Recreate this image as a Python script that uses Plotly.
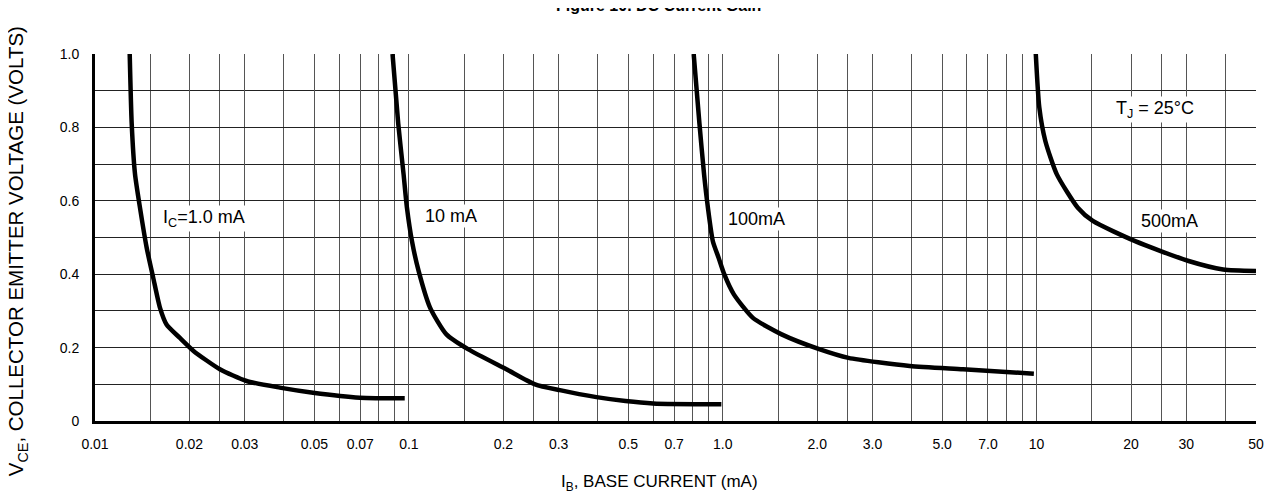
import math
import plotly.graph_objects as go

# ---- data ----
ib_1ma = [0.0129, 0.01309, 0.01341, 0.01391, 0.01461, 0.01533, 0.0161, 0.0169, 0.0186, 0.0206, 0.025, 0.0304, 0.0388, 0.0495, 0.0698, 0.097]
vce_1ma = [1.0, 0.81, 0.673, 0.581, 0.472, 0.39, 0.309, 0.263, 0.227, 0.191, 0.141, 0.109, 0.091, 0.077, 0.0635, 0.062]

ib_10ma = [0.0887, 0.0925, 0.0962, 0.0986, 0.1023, 0.1074, 0.1168, 0.1317, 0.1548, 0.2045, 0.2524, 0.3028, 0.396, 0.49, 0.60, 0.99]
vce_10ma = [1.0, 0.81, 0.672, 0.581, 0.49, 0.409, 0.309, 0.236, 0.195, 0.141, 0.10, 0.084, 0.065, 0.0545, 0.048, 0.0455]

ib_100ma = [0.808, 0.843, 0.872, 0.897, 0.930, 0.970, 1.011, 1.085, 1.248, 1.54, 2.04, 2.515, 3.94, 5.83, 9.8]
vce_100ma = [1.0, 0.81, 0.672, 0.581, 0.49, 0.445, 0.40, 0.345, 0.281, 0.236, 0.195, 0.172, 0.15, 0.141, 0.129]

ib_500ma = [9.94, 10.2, 10.66, 11.6, 13.53, 15.1, 20.6, 30.5, 39.3, 50.0]
vce_500ma = [1.0, 0.854, 0.763, 0.672, 0.581, 0.545, 0.49, 0.436, 0.413, 0.409]

x_tick_vals = [0.01, 0.02, 0.03, 0.05, 0.07, 0.1, 0.2, 0.3, 0.5, 0.7, 1, 2, 3, 5, 7, 10, 20, 30, 50]
x_tick_text = ["0.01", "0.02", "0.03", "0.05", "0.07", "0.1", "0.2", "0.3", "0.5", "0.7",
               "1.0", "2.0", "3.0", "5.0", "7.0", "10", "20", "30", "50"]
x_minor_vals = [0.015, 0.025, 0.04, 0.06, 0.08, 0.09,
                0.15, 0.25, 0.4, 0.6, 0.8, 0.9,
                1.5, 2.5, 4, 6, 8, 9,
                15, 25, 40]
y_tick_vals = [0, 0.2, 0.4, 0.6, 0.8, 1.0]
y_tick_text = ["0", "0.2", "0.4", "0.6", "0.8", "1.0"]
y_minor_vals = [0.1, 0.3, 0.5, 0.7, 0.9]

curve_labels = [
    ("I<sub>C</sub>=1.0 mA", 0.0222, 0.553),
    ("10 mA", 0.1365, 0.558),
    ("100mA", 1.28, 0.55),
    ("500mA", 26.5, 0.545),
    ("T<sub>J</sub> = 25°C", 23.8, 0.85),
]

FONT = "Liberation Sans, Arial, sans-serif"

fig = go.Figure()
for xs, ys in [(ib_1ma, vce_1ma), (ib_10ma, vce_10ma), (ib_100ma, vce_100ma), (ib_500ma, vce_500ma)]:
    fig.add_trace(go.Scatter(x=xs, y=ys, mode="lines",
                             line=dict(color="black", width=4.5, shape="spline", smoothing=0.6),
                             showlegend=False, hoverinfo="skip"))

for txt, x, y in curve_labels:
    fig.add_annotation(x=math.log10(x), y=y, xref="x", yref="y", text=txt,
                       showarrow=False, bgcolor="white", borderpad=1,
                       font=dict(family=FONT, size=18, color="black"))

fig.update_xaxes(type="log", range=[-2, math.log10(50)],
                 tickmode="array", tickvals=x_tick_vals, ticktext=x_tick_text,
                 showgrid=True, gridcolor="#555", gridwidth=1,
                 minor=dict(tickvals=x_minor_vals, showgrid=True, gridcolor="#555", gridwidth=1, ticks=""),
                 showline=True, linecolor="black", linewidth=3,
                 ticks="", ticklabelstandoff=8, zeroline=False,
                 tickfont=dict(family=FONT, size=14, color="black"))
fig.update_yaxes(range=[0, 1.0],
                 tickmode="array", tickvals=y_tick_vals, ticktext=y_tick_text,
                 showgrid=True, gridcolor="#222", gridwidth=1,
                 minor=dict(tickvals=y_minor_vals, showgrid=True, gridcolor="#222", gridwidth=1, ticks=""),
                 showline=True, linecolor="black", linewidth=3,
                 ticks="", ticklabelstandoff=10, zeroline=False,
                 tickfont=dict(family=FONT, size=14, color="black"))

# titles
fig.add_annotation(text="<b>Figure 10. DC Current Gain</b>", xref="paper", yref="paper",
                   x=0.485, y=1.132, xanchor="center", yanchor="middle", showarrow=False,
                   font=dict(family=FONT, size=16, color="black"))
fig.add_annotation(text="I<sub>B</sub>, BASE CURRENT (mA)", xref="paper", yref="paper",
                   x=0.4866, y=-0.169, xanchor="center", yanchor="middle", showarrow=False,
                   font=dict(family=FONT, size=17, color="black"))
fig.add_annotation(text="V<sub>CE</sub>, COLLECTOR EMITTER VOLTAGE (VOLTS)", xref="paper", yref="paper",
                   x=-0.0665, y=0.462, xanchor="center", yanchor="middle", showarrow=False,
                   textangle=-90, font=dict(family=FONT, size=20.5, color="black"))

fig.update_layout(width=1266, height=485, margin=dict(l=87, r=18, t=46, b=72, autoexpand=False),
                  plot_bgcolor="white", paper_bgcolor="white",
                  font=dict(family=FONT, color="black"))
fig.write_html("out.html")
